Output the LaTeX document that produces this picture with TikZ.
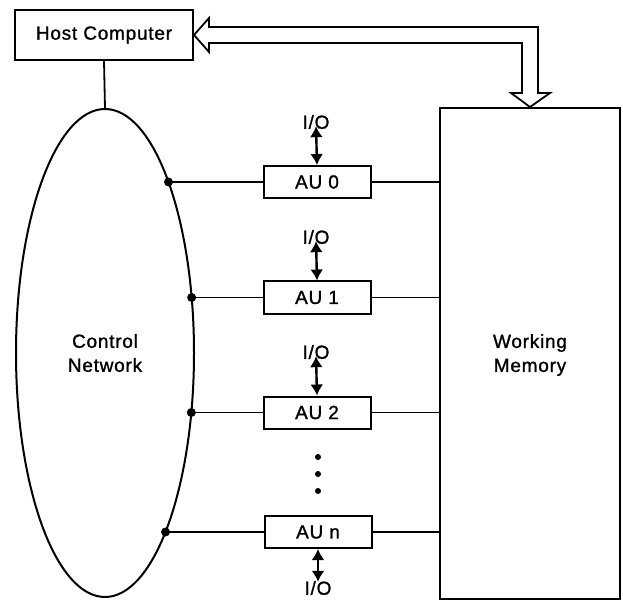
\documentclass[tikz,border=0pt]{standalone}
\usepackage{fontspec}
\setmainfont{Liberation Sans}[LetterSpace=4.0,FakeBold=1.2]
\usetikzlibrary{arrows.meta,shapes.geometric}
\begin{document}
\begin{tikzpicture}[x=1pt,y=-1pt,
  box/.style={draw,line width=2pt,inner sep=0pt},
  lbl/.style={font=\fontsize{19}{24}\selectfont,align=center},
  link/.style={line width=1.8pt},
  ioarrow/.style={line width=2.4pt,{Latex[length=11pt,width=13pt]}-{Latex[length=11pt,width=13pt]}},
  hollow/.style={draw,line width=1.8pt,line join=miter},
  junction/.style={circle,fill,inner sep=0pt,minimum size=9pt},
  dotnode/.style={circle,fill,inner sep=0pt,minimum size=6pt}]
\useasboundingbox (0,0) rectangle (623,601);
% main blocks
\node[box,lbl,minimum width=178pt,minimum height=50pt] (host) at (104,35) {Host Computer};
\node[box,lbl,ellipse,minimum width=178pt,minimum height=488pt] (net) at (105,353) {Control\\Network};
\node[box,minimum width=180pt,minimum height=491pt] (memory) at (530,353.5) {};
\node[lbl] (memtext) at (530,355) {Working\\Memory};
% arithmetic units
\node[box,lbl,minimum width=107pt,minimum height=32pt] (au0) at (317,182) {AU 0};
\node[box,lbl,minimum width=107pt,minimum height=32pt] (au1) at (317,297.5) {AU 1};
\node[box,lbl,minimum width=107pt,minimum height=32pt] (au2) at (317,412.5) {AU 2};
\node[box,lbl,minimum width=107pt,minimum height=32pt] (aun) at (318,532) {AU n};
% I/O labels
\node[lbl,inner sep=1pt] (io0) at (316,122) {I/O};
\node[lbl,inner sep=1pt] (io1) at (316,237) {I/O};
\node[lbl,inner sep=1pt] (io2) at (316,352) {I/O};
\node[lbl,inner sep=1pt] (ion) at (318,588) {I/O};
% ellipsis dots
\node[dotnode] (d1) at (318,457) {};
\node[dotnode] (d2) at (318,474) {};
\node[dotnode] (d3) at (318,491) {};
% junctions on the ellipse
\coordinate (j0) at ({105+89*sqrt(1-((182-353)/244)^2)},182);
\coordinate (j1) at ({105+89*sqrt(1-((297.5-353)/244)^2)},297.5);
\coordinate (j2) at ({105+89*sqrt(1-((412.5-353)/244)^2)},412.5);
\coordinate (jn) at ({105+89*sqrt(1-((532-353)/244)^2)},532);
\foreach \j in {j0,j1,j2,jn} \node[junction] at (\j) {};
% connectors
\draw[link] (host.south) -- (net.north);
\draw[ioarrow] ([yshift=4pt]io0.south) -- (au0.north);
\draw[ioarrow] ([yshift=4pt]io1.south) -- (au1.north);
\draw[ioarrow] ([yshift=4pt]io2.south) -- (au2.north);
\draw[ioarrow] (aun.south) -- ([yshift=-2pt]ion.north);
\draw[link] (j0) -- (au0.west);
\draw[link] (j1) -- (au1.west);
\draw[link] (j2) -- (au2.west);
\draw[link] (jn) -- (aun.west);
\draw[link] (au0.east) -- (au0.east -| memory.west);
\draw[link] (au1.east) -- (au1.east -| memory.west);
\draw[link] (au2.east) -- (au2.east -| memory.west);
\draw[link] (aun.east) -- (aun.east -| memory.west);
% hollow bus arrow between host and memory
\draw[hollow] (host.east) -- (209,18) -- (209,27) -- (538,27) -- (538,93) -- (550,93)
  -- (memory.north) -- (511,93) -- (522,93) -- (522,43) -- (209,43) -- (209,52) -- cycle;
\end{tikzpicture}
\end{document}
